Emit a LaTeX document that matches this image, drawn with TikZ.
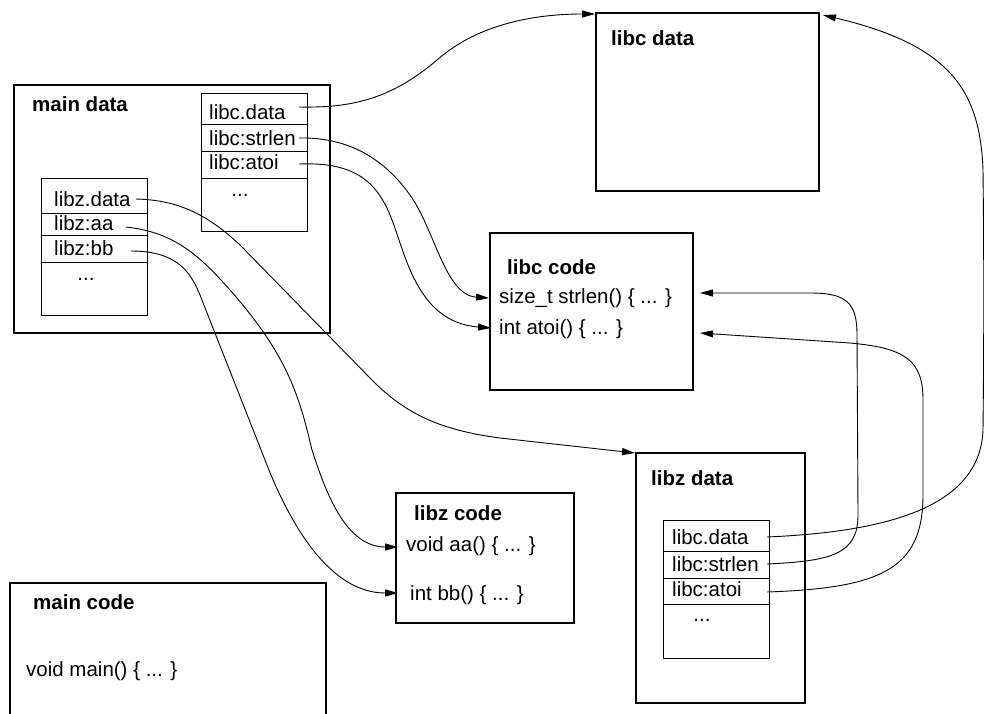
\documentclass[tikz,border=0pt]{standalone}
\usepackage{fontspec}
\setmainfont{Liberation Sans}
\usetikzlibrary{arrows.meta}
\begin{document}
\begin{tikzpicture}[x=1pt,y=-1pt,
  box/.style={draw, line width=1.5pt, inner sep=0pt, outer sep=0pt, anchor=north west},
  tbl/.style={draw, line width=0.9pt, inner sep=0pt, outer sep=0pt, anchor=north west},
  rowline/.style={line width=0.9pt},
  boxline/.style={line width=1.5pt},
  txt/.style={anchor=base west, inner sep=0pt, font=\fontsize{20.5pt}{24pt}\selectfont},
  head/.style={anchor=base west, inner sep=0pt, font=\fontsize{20.5pt}{24pt}\selectfont\bfseries},
  dotsn/.style={anchor=base, inner sep=0pt, font=\fontsize{20.5pt}{24pt}\selectfont},
  link/.style={line width=0.9pt, -{Triangle[length=13pt,width=7pt]}}
  ]
\useasboundingbox (0,0) rectangle (984,713);

% ---- boxes
\node[box, minimum width=316pt, minimum height=248pt] (maindata) at (14,85) {};
\node[box, minimum width=223pt, minimum height=178pt] (libcdata) at (596,13) {};
\node[box, minimum width=203pt, minimum height=157pt] (libccode) at (490,233) {};
\node[box, minimum width=169pt, minimum height=250pt] (libzdata) at (636,453) {};
\node[box, minimum width=178pt, minimum height=130pt] (libzcode) at (396,493) {};
\draw[boxline] (10,725) -- (10,583) -- (326,583) -- (326,725);

% ---- tables
\node[tbl, minimum width=106pt, minimum height=138pt] (mctab) at (201,93) {};
\draw[rowline] (201,124) -- (307,124) (201,151) -- (307,151) (201,178) -- (307,178);
\node[tbl, minimum width=106pt, minimum height=137pt] (mztab) at (41,178) {};
\draw[rowline] (41,213) -- (147,213) (41,235) -- (147,235) (41,262) -- (147,262);
\node[tbl, minimum width=106pt, minimum height=138pt] (zctab) at (663,520) {};
\draw[rowline] (663,551) -- (769,551) (663,578) -- (769,578) (663,604) -- (769,604);

% ---- headings
\node[head] (hmaindata) at (32,111) {main data};
\node[head] (hlibcdata) at (611,45) {libc data};
\node[head] (hlibccode) at (507,274) {libc code};
\node[head] (hlibzdata) at (651,485) {libz data};
\node[head] (hlibzcode) at (414,520) {libz code};
\node[head] (hmaincode) at (33,609) {main code};

% ---- texts main data
\node[txt] (mcd) at (209,119) {libc.data};
\node[txt] (mcs) at (209,145) {libc:strlen};
\node[txt] (mca) at (209,169) {libc:atoi};
\node[dotsn] (mcx) at (240,196) {...};
\node[txt] (mzd) at (54,206) {libz.data};
\node[txt] (mza) at (54,230) {libz:aa};
\node[txt] (mzb) at (54,255) {libz:bb};
\node[dotsn] (mzx) at (86,280) {...};

% ---- texts libz data
\node[txt] (zcd) at (672,544) {libc.data};
\node[txt] (zcs) at (672,571) {libc:strlen};
\node[txt] (zca) at (672,596) {libc:atoi};
\node[dotsn] (zcx) at (702,621) {...};

% ---- code texts
\node[txt] (fstrlen) at (499,303) {size\_t strlen() \{ ... \}};
\node[txt] (fatoi) at (499,334) {int atoi() \{ ... \}};
\node[txt] (faa) at (406,551) {void aa() \{ ... \}};
\node[txt] (fbb) at (410,600) {int bb() \{ ... \}};
\node[txt] (fmain) at (26,676) {void main() \{ ... \}};

% ---- connector ends
\coordinate (s1) at (299,107);
\coordinate (s2) at (299,138);
\coordinate (s3) at (299,164);
\coordinate (s4) at (136,199);
\coordinate (s5) at (126,227);
\coordinate (s6) at (131,251);
\coordinate (s7) at (767,537);
\coordinate (s8) at (767,564);
\coordinate (s9) at (767,592);
\coordinate (e1) at (595,14);
\coordinate (e2) at (489,298);
\coordinate (e3) at (491,328);
\coordinate (e4) at (635,453);
\coordinate (e5) at (398,547);
\coordinate (e6) at (398,593);
\coordinate (e7) at (823,15);
\coordinate (e8) at (700,293);
\coordinate (e9) at (700,333);

% ---- connectors
\draw[link] (s1) .. controls (350,108) and (390,100) .. (437,60)
  .. controls (480,22) and (540,14) .. (e1);
\draw[link] (s2) .. controls (350,137) and (385,160) .. (410,195)
  .. controls (435,230) and (445,295) .. (e2);
\draw[link] (s3) .. controls (350,162) and (375,178) .. (390,215)
  .. controls (405,250) and (415,322) .. (e3);
\draw[link] (s4) .. controls (175,200) and (205,212) .. (240,245) -- (370,378)
  .. controls (405,414) and (440,430) .. (500,438) -- (e4);
\draw[link] (s5) .. controls (170,232) and (195,250) .. (230,290)
  .. controls (290,358) and (300,400) .. (312,450)
  .. controls (325,490) and (345,547) .. (e5);
\draw[link] (s6) .. controls (175,251) and (190,270) .. (200,295) -- (265,460)
  .. controls (290,525) and (330,593) .. (e6);
\draw[link] (s7) .. controls (880,532) and (980,510) .. (983,430)
  .. controls (984,330) and (984,260) .. (983,170)
  .. controls (980,90) and (950,45) .. (e7);
\draw[link] (s8) .. controls (830,561) and (858,555) .. (858,515) -- (857,335)
  .. controls (857,303) and (847,293) .. (810,293) -- (e8);
\draw[link] (s9) .. controls (880,588) and (923,570) .. (923,495) -- (923,400)
  .. controls (923,360) and (905,348) .. (850,343) -- (e9);
\end{tikzpicture}
\end{document}
